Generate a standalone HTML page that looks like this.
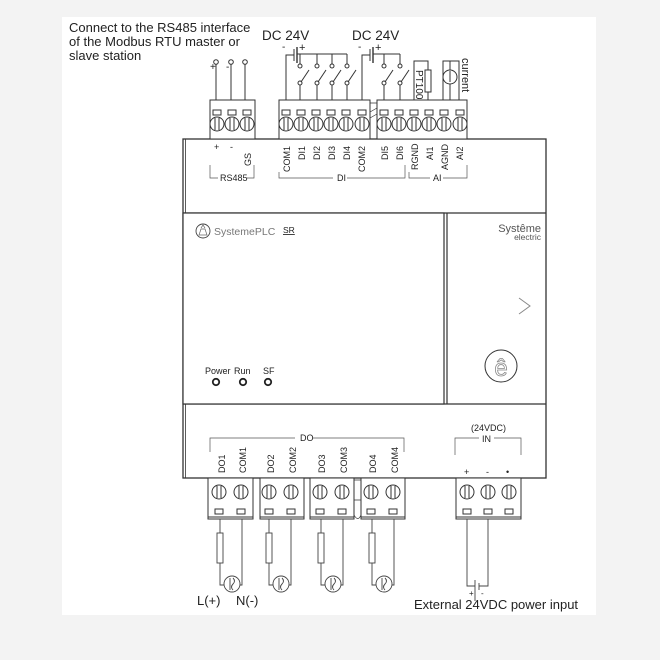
<!DOCTYPE html>
<html><head><meta charset="utf-8"><style>
html,body{margin:0;padding:0;background:#f3f3f3;}
svg{display:block;}
text{font-family:"Liberation Sans",sans-serif;fill:#222;}
</style></head><body>
<svg width="660" height="660" viewBox="0 0 660 660" xmlns="http://www.w3.org/2000/svg">
<defs>
<g id="t1"><rect x="-4" y="110" width="8" height="5"/><circle cx="0" cy="124" r="7"/><path d="M-2,118 L-2,130 M2,118 L2,130" fill="none"/></g>
<g id="b1"><circle cx="0" cy="492" r="7"/><path d="M-2,486 L-2,498 M2,486 L2,498" fill="none"/><rect x="-4" y="509" width="8" height="5"/></g>
<g id="load">
<line x1="0" y1="519" x2="0" y2="533"/><rect x="-3" y="533" width="6" height="30"/>
<polyline points="0,563 0,585 4,585"/>
<circle cx="12" cy="584" r="8"/>
<polyline points="20,585 22,585 22,519"/>
<path d="M10,578 L10,590 M13,578 Q16,581 13,584 Q10,587 13,590"/>
</g>
</defs>
<rect x="0" y="0" width="660" height="660" fill="#f3f3f3"/>
<rect x="62" y="17" width="534" height="598" fill="#fff"/>

<text x="69" y="32" font-size="13">Connect to the RS485 interface</text>
<text x="69" y="46" font-size="13">of the Modbus RTU master or</text>
<text x="69" y="60" font-size="13">slave station</text>
<text x="262" y="40" font-size="13.5">DC 24V</text>
<text x="352" y="40" font-size="13.5">DC 24V</text>

<g stroke="#333" stroke-width="1" fill="none">
<circle cx="216" cy="62" r="2.3"/><circle cx="231" cy="62" r="2.3"/><circle cx="245" cy="62" r="2.3"/>
<line x1="216" y1="64" x2="216" y2="100"/><line x1="231" y1="64" x2="231" y2="100"/><line x1="245" y1="64" x2="245" y2="100"/>
<polyline points="286,100 286,55 294,55"/>
<line x1="294" y1="49" x2="294" y2="61"/><line x1="297" y1="47" x2="297" y2="63" stroke-width="1.4"/>
<polyline points="297,54 347,54"/>
<line x1="300" y1="54" x2="300" y2="64"/><line x1="317" y1="54" x2="317" y2="64"/><line x1="332" y1="54" x2="332" y2="64"/><line x1="347" y1="54" x2="347" y2="64"/>
<circle cx="300" cy="66" r="2"/><circle cx="317" cy="66" r="2"/><circle cx="332" cy="66" r="2"/><circle cx="347" cy="66" r="2"/>
<circle cx="300" cy="83" r="2"/><circle cx="317" cy="83" r="2"/><circle cx="332" cy="83" r="2"/><circle cx="347" cy="83" r="2"/>
<line x1="301" y1="82" x2="309" y2="70"/><line x1="318" y1="82" x2="326" y2="70"/><line x1="333" y1="82" x2="341" y2="70"/><line x1="348" y1="82" x2="356" y2="70"/>
<line x1="300" y1="85" x2="300" y2="100"/><line x1="317" y1="85" x2="317" y2="100"/><line x1="332" y1="85" x2="332" y2="100"/><line x1="347" y1="85" x2="347" y2="100"/>
<polyline points="362,100 362,55 370,55"/>
<line x1="370" y1="49" x2="370" y2="61"/><line x1="373" y1="47" x2="373" y2="63" stroke-width="1.4"/>
<polyline points="373,54 400,54"/>
<line x1="384" y1="54" x2="384" y2="64"/><line x1="400" y1="54" x2="400" y2="64"/>
<circle cx="384" cy="66" r="2"/><circle cx="400" cy="66" r="2"/>
<circle cx="384" cy="83" r="2"/><circle cx="400" cy="83" r="2"/>
<line x1="385" y1="82" x2="393" y2="70"/><line x1="401" y1="82" x2="409" y2="70"/>
<line x1="384" y1="85" x2="384" y2="100"/><line x1="400" y1="85" x2="400" y2="100"/>
<polyline points="414,100 414,61 428,61 428,70"/>
<rect x="425" y="70" width="6" height="22"/>
<line x1="428" y1="92" x2="428" y2="100"/>
<polyline points="443,100 443,61 459,61 459,100"/>
<line x1="450" y1="61" x2="450" y2="100"/>
<circle cx="450" cy="77" r="7" fill="#fff"/>
<line x1="450" y1="71" x2="450" y2="82"/>
</g>
<text x="282" y="50" font-size="10">-</text><text x="299" y="51" font-size="11">+</text>
<text x="358" y="50" font-size="10">-</text><text x="375" y="51" font-size="11">+</text>
<text x="210" y="70" font-size="10">+</text><text x="226" y="70" font-size="10">-</text>
<text transform="translate(416,70) rotate(90)" font-size="10">PT100</text>
<text transform="translate(462,58) rotate(90)" font-size="11">current</text>

<g stroke="#333" fill="#fff">
<rect x="183" y="139" width="363" height="339" stroke-width="1.3"/>
<line x1="185.5" y1="139" x2="185.5" y2="478" stroke-width="0.8"/>
<line x1="183" y1="213" x2="546" y2="213" stroke-width="1.3"/>
<line x1="183" y1="404" x2="546" y2="404" stroke-width="1.3"/>
<rect x="183" y="213" width="261" height="191" stroke-width="1.2"/>
<line x1="447" y1="213" x2="447" y2="404" stroke-width="1.2"/>
</g>

<g stroke="#333" fill="#fff" stroke-width="1">
<rect x="210" y="100" width="45" height="39"/>
<rect x="279" y="100" width="91" height="39"/>
<rect x="377" y="100" width="90" height="39"/>
<path d="M370,103 L377,103 M370,112 L377,108 M370,118 L377,114" fill="none" stroke-width="0.7"/>
</g>
<g stroke="#333" fill="#fff" stroke-width="1">
<use href="#t1" x="217"/><use href="#t1" x="232"/><use href="#t1" x="247"/>
<use href="#t1" x="286"/><use href="#t1" x="301"/><use href="#t1" x="316"/><use href="#t1" x="331"/><use href="#t1" x="346"/><use href="#t1" x="362"/>
<use href="#t1" x="384"/><use href="#t1" x="399"/><use href="#t1" x="414"/><use href="#t1" x="429"/><use href="#t1" x="444"/><use href="#t1" x="460"/>
</g>

<g font-size="9">
<text x="214" y="150">+</text><text x="230" y="150">-</text>
<text transform="translate(251,166) rotate(-90)">GS</text>
<text transform="translate(290,172) rotate(-90)">COM1</text>
<text transform="translate(305,160) rotate(-90)">DI1</text>
<text transform="translate(320,160) rotate(-90)">DI2</text>
<text transform="translate(335,160) rotate(-90)">DI3</text>
<text transform="translate(350,160) rotate(-90)">DI4</text>
<text transform="translate(365,172) rotate(-90)">COM2</text>
<text transform="translate(388,160) rotate(-90)">DI5</text>
<text transform="translate(403,160) rotate(-90)">DI6</text>
<text transform="translate(418,170) rotate(-90)">RGND</text>
<text transform="translate(433,160) rotate(-90)">AI1</text>
<text transform="translate(448,170) rotate(-90)">AGND</text>
<text transform="translate(463,160) rotate(-90)">AI2</text>
<text x="220" y="181">RS485</text>
<text x="337" y="181">DI</text>
<text x="433" y="181">AI</text>
</g>
<g stroke="#555" stroke-width="0.7" fill="none">
<polyline points="210,165 210,178 218,178"/><polyline points="247,178 254,178 254,165"/>
<polyline points="279,172 279,178 333,178"/><polyline points="347,178 405,178 405,165"/>
<polyline points="409,172 409,178 430,178"/><polyline points="443,178 467,178 467,165"/>
</g>

<circle cx="203" cy="231" r="7" fill="none" stroke="#444" stroke-width="0.9"/>
<path d="M199,235 L207,235 L205,229 L201,229 Z M201,228 L203,225 L205,228" fill="none" stroke="#666" stroke-width="0.7"/>
<text x="214" y="235" font-size="10.5" style="fill:#777">SystemePLC</text>
<text x="283" y="233" font-size="8.5" text-decoration="underline">SR</text>
<text x="541" y="232" font-size="11" text-anchor="end" style="fill:#555">Systême</text>
<text x="541" y="240" font-size="8.5" text-anchor="end" style="fill:#555">electric</text>
<polyline points="519,298 530,306 519,314" fill="none" stroke="#888" stroke-width="1"/>
<circle cx="501" cy="366" r="16" fill="none" stroke="#333" stroke-width="1"/>
<text x="501" y="376" font-size="24" text-anchor="middle" style="fill:#fff;stroke:#888;stroke-width:0.8">ê</text>
<text x="205" y="374" font-size="9">Power</text>
<text x="234" y="374" font-size="9">Run</text>
<text x="263" y="374" font-size="9">SF</text>
<g fill="none" stroke="#222" stroke-width="1.8">
<circle cx="216" cy="382" r="3.2"/><circle cx="243" cy="382" r="3.2"/><circle cx="268" cy="382" r="3.2"/>
</g>

<g font-size="9">
<text x="300" y="441">DO</text>
<text x="471" y="431">(24VDC)</text>
<text x="482" y="442">IN</text>
<text transform="translate(225,473) rotate(-90)">DO1</text>
<text transform="translate(246,473) rotate(-90)">COM1</text>
<text transform="translate(274,473) rotate(-90)">DO2</text>
<text transform="translate(296,473) rotate(-90)">COM2</text>
<text transform="translate(325,473) rotate(-90)">DO3</text>
<text transform="translate(347,473) rotate(-90)">COM3</text>
<text transform="translate(376,473) rotate(-90)">DO4</text>
<text transform="translate(398,473) rotate(-90)">COM4</text>
<text x="464" y="475">+</text><text x="486" y="475">-</text><text x="506" y="475">•</text>
</g>
<g stroke="#555" stroke-width="0.7" fill="none">
<polyline points="210,452 210,438 295,438"/><polyline points="313,438 404,438 404,452"/>
<polyline points="455,455 455,438 479,438"/><polyline points="494,438 521,438 521,455"/>
</g>

<g stroke="#333" fill="#fff" stroke-width="1">
<rect x="208" y="478" width="45" height="41"/>
<rect x="260" y="478" width="44" height="41"/>
<rect x="310" y="478" width="44" height="41"/>
<rect x="361" y="478" width="44" height="41"/>
<rect x="456" y="478" width="65" height="41"/>
<path d="M354,480 L361,480 M354,500 L361,500 M354,515 Q358,522 361,515" fill="none" stroke-width="0.7"/>
<line x1="208" y1="517" x2="253" y2="517"/><line x1="260" y1="517" x2="304" y2="517"/>
<line x1="310" y1="517" x2="354" y2="517"/><line x1="361" y1="517" x2="405" y2="517"/><line x1="456" y1="517" x2="521" y2="517"/>
</g>
<g stroke="#333" fill="#fff" stroke-width="1">
<use href="#b1" x="219"/><use href="#b1" x="241"/><use href="#b1" x="269"/><use href="#b1" x="291"/>
<use href="#b1" x="320"/><use href="#b1" x="342"/><use href="#b1" x="371"/><use href="#b1" x="393"/>
<use href="#b1" x="467"/><use href="#b1" x="488"/><use href="#b1" x="509"/>
</g>

<g stroke="#444" stroke-width="0.9" fill="none">
<use href="#load" x="220"/><use href="#load" x="269"/><use href="#load" x="321"/><use href="#load" x="372"/>
<polyline points="467,519 467,586 475,586"/>
<line x1="475" y1="580" x2="475" y2="601"/><line x1="479" y1="583" x2="479" y2="590"/>
<polyline points="479,586 488,586 488,519"/>
</g>
<text x="197" y="605" font-size="13">L(+)</text>
<text x="236" y="605" font-size="13">N(-)</text>
<text x="469" y="596" font-size="8">+</text><text x="481" y="596" font-size="8">-</text>
<text x="414" y="609" font-size="13">External 24VDC power input</text>
</svg>
</body></html>
